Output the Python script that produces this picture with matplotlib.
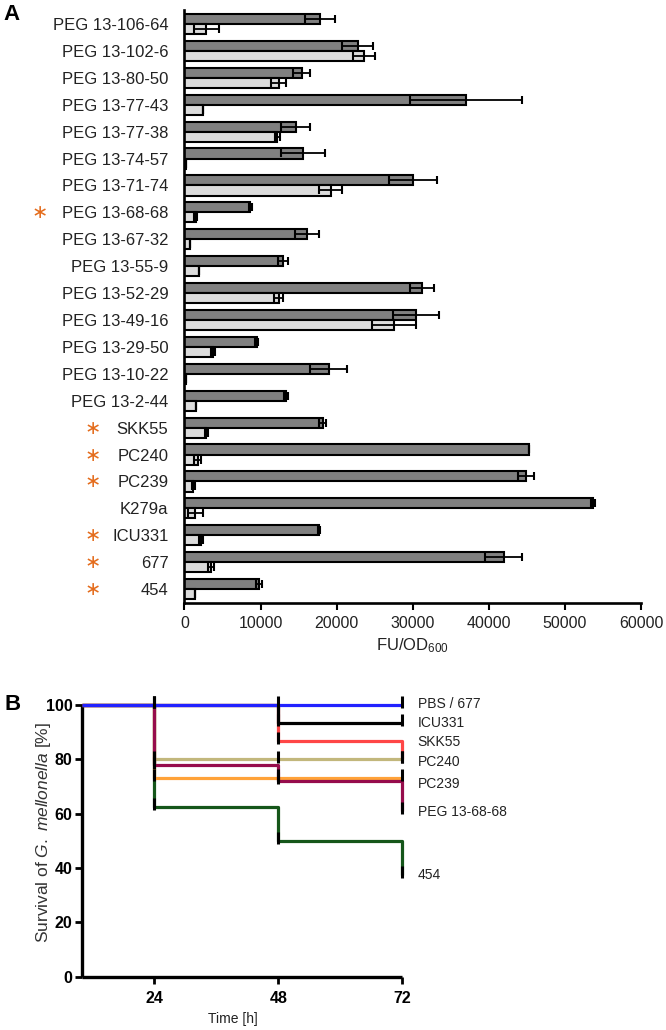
import matplotlib
matplotlib.use("Agg")
import matplotlib.pyplot as plt
from matplotlib import font_manager
import matplotlib.transforms as mtransforms
import numpy as np

# ---------------- data ----------------
categories = ["PEG 13-106-64", "PEG 13-102-6", "PEG 13-80-50", "PEG 13-77-43",
              "PEG 13-77-38", "PEG 13-74-57", "PEG 13-71-74", "PEG 13-68-68",
              "PEG 13-67-32", "PEG 13-55-9", "PEG 13-52-29", "PEG 13-49-16",
              "PEG 13-29-50", "PEG 13-10-22", "PEG 13-2-44", "SKK55", "PC240",
              "PC239", "K279a", "ICU331", "677", "454"]
dark_vals = [17800, 22750, 15400, 37000, 14600, 15600, 30050, 8650, 16100, 12950,
             31200, 30400, 9500, 18950, 13300, 18170, 45300, 44850, 53700, 17700,
             41950, 9800]
dark_err = [2000, 2000, 1100, 7300, 1900, 2900, 3200, 200, 1600, 600,
            1600, 3000, 200, 2450, 250, 450, 0, 1050, 250, 150, 2400, 450]
light_vals = [2900, 23550, 12400, 2500, 12200, 150, 19200, 1500, 700, 1900,
              12400, 27550, 3750, 250, 1500, 2850, 1750, 1150, 1450, 2150,
              3500, 1450]
light_err = [1700, 1450, 1000, 0, 300, 0, 1450, 200, 0, 0, 600, 2900, 300, 0,
             0, 200, 450, 200, 950, 250, 350, 0]
starred = ["PEG 13-68-68", "SKK55", "PC240", "PC239", "ICU331", "677", "454"]
x_ticks_a = [0, 10000, 20000, 30000, 40000, 50000, 60000]

surv_times = [24, 48, 72]
surv_names = ["454", "PC239", "PC240", "PEG 13-68-68", "SKK55", "ICU331", "PBS / 677"]
surv_vals = {
    "454": [62.5, 50.0, 37.5],
    "PC239": [73.3, 73.3, 73.3],
    "PEG 13-68-68": [77.8, 72.2, 61.1],
    "PC240": [80.0, 80.0, 80.0],
    "SKK55": [100.0, 86.7, 80.0],
    "ICU331": [100.0, 93.3, 93.3],
    "PBS / 677": [100.0, 100.0, 100.0],
}
surv_colors = {
    "454": "#15561a",
    "PC239": "#ffa238",
    "PEG 13-68-68": "#960c4c",
    "PC240": "#c2b77c",
    "SKK55": "#ff4646",
    "ICU331": "#000000",
    "PBS / 677": "#2222ff",
}
label_y = {"PBS / 677": 100.3, "ICU331": 93.4, "SKK55": 86.4, "PC240": 79.0,
           "PC239": 71.0, "PEG 13-68-68": 60.8, "454": 37.4}
y_ticks_b = [0, 20, 40, 60, 80, 100]

# ---------------- fonts ----------------
avail = {f.name for f in font_manager.fontManager.ttflist}
SANS = "Liberation Sans" if "Liberation Sans" in avail else "DejaVu Sans"
NARROW = "Liberation Sans Narrow" if "Liberation Sans Narrow" in avail else None
plt.rcParams["font.family"] = [SANS, "DejaVu Sans"]
plt.rcParams["mathtext.fontset"] = "custom"
plt.rcParams["mathtext.rm"] = SANS
plt.rcParams["mathtext.it"] = SANS + ":italic"

W, H = 666, 1030
fig = plt.figure(figsize=(W / 100, H / 100), dpi=100)

# ---------------- panel A ----------------
axA = fig.add_axes([184.4 / W, 1 - 603.3 / H, (641 - 184.4) / W, (603.3 - 10) / H])
n = len(categories)
pos = np.arange(n)
bh = 0.375
axA.barh(pos - bh / 2, dark_vals, height=bh, color="#808080", edgecolor="black",
         linewidth=1.5, zorder=2)
axA.barh(pos + bh / 2, light_vals, height=bh, color="#dcdcdc", edgecolor="black",
         linewidth=1.5, zorder=2)
axA.errorbar(dark_vals, pos - bh / 2, xerr=dark_err, fmt="none", ecolor="black",
             elinewidth=1.3, capsize=3, capthick=1.5, zorder=3)
axA.errorbar(light_vals, pos + bh / 2, xerr=light_err, fmt="none", ecolor="black",
             elinewidth=1.3, capsize=3, capthick=1.5, zorder=3)
axA.set_ylim(n - 1 + 0.53, -0.52)
axA.set_xlim(0, 60000)
axA.set_yticks(pos)
axA.set_yticklabels(categories, fontsize=12, color="#222222")
axA.tick_params(axis="y", length=0, pad=11.5)
axA.set_xticks(x_ticks_a)
axA.set_xticklabels([str(v) for v in x_ticks_a], fontsize=11.5, color="#222222")
axA.tick_params(axis="x", length=5, width=1.5, direction="out", pad=4)
for s in ("top", "right"):
    axA.spines[s].set_visible(False)
for s in ("left", "bottom"):
    axA.spines[s].set_linewidth(1.9)
axA.set_xlabel("FU/OD$_{600}$", fontsize=12, color="#222222", labelpad=4)

star_tr = mtransforms.blended_transform_factory(fig.transFigure, axA.transData)
for i, c in enumerate(categories):
    if c in starred:
        xpx = 40 if c.startswith("PEG") else 93
        axA.text(xpx / W, i + 0.02, "\u2217", transform=star_tr,
                 ha="center", va="center", fontsize=14, color="#e46c1c",
                 family=["DejaVu Sans"])

fig.text(3 / W, 1 - 14 / H, "A", fontsize=16, fontweight="bold", ha="left",
         va="center")

# ---------------- panel B ----------------
axB = fig.add_axes([82 / W, 1 - 976.7 / H, (402.3 - 82) / W, (976.7 - 705) / H])
for name in surv_names:
    xs = [10] + surv_times
    ys = [100.0] + surv_vals[name]
    axB.step(xs, ys, where="post", color=surv_colors[name], linewidth=2.3,
             clip_on=False, zorder=3, solid_capstyle="butt")
for name in surv_names:
    axB.plot(surv_times, [v + 1.0 for v in surv_vals[name]], linestyle="none",
             marker="|", markersize=8, markeredgewidth=2.2, color="black",
             clip_on=False, zorder=4)
lab_fam = [NARROW, SANS] if NARROW else [SANS]
lab_size = 11.5 if NARROW else 10
for name in surv_names:
    axB.text(75.0, label_y[name], name, fontsize=lab_size, family=lab_fam,
             ha="left", va="center", color="#222222", clip_on=False)

axB.set_xlim(10, 72)
axB.set_ylim(0, 100)
axB.set_xticks(surv_times)
axB.set_xticklabels([str(t) for t in surv_times], fontsize=11.5, fontweight="bold")
axB.set_yticks(y_ticks_b)
axB.set_yticklabels([str(t) for t in y_ticks_b], fontsize=11.5, fontweight="bold")
axB.tick_params(axis="both", length=5, width=2, direction="out", pad=2)
axB.tick_params(axis="x", pad=5)
for s in ("top", "right"):
    axB.spines[s].set_visible(False)
for s in ("left", "bottom"):
    axB.spines[s].set_linewidth(2.4)
    axB.spines[s].set_capstyle("butt")
axB.set_xlabel("Time [h]", fontsize=lab_size, family=lab_fam, color="#222222")
axB.xaxis.set_label_coords((233 - 82) / 320.3, -(1012 - 976.7) / 271.7)
axB.set_ylabel("Survival of $\\it{G.\\ mellonella}$ [%]", fontsize=12.5,
               color="#333333")
axB.yaxis.set_label_coords((53 - 82) / 320.3, (976.7 - 833) / 271.7)

fig.text(4 / W, 1 - 705 / H, "B", fontsize=16, fontweight="bold", ha="left",
         va="center")

fig.savefig("out.png", dpi=100)
